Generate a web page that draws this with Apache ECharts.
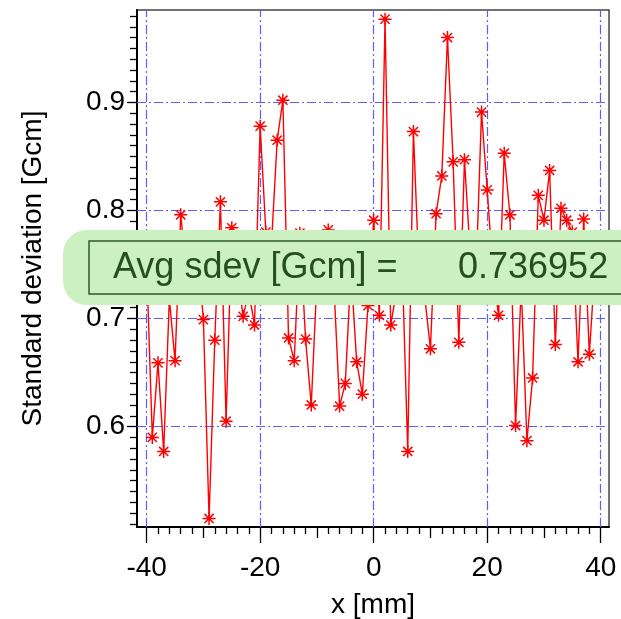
<!DOCTYPE html>
<html><head><meta charset="utf-8">
<script src="https://cdn.jsdelivr.net/npm/echarts@6/dist/echarts.min.js"></script>
<style>html,body{margin:0;padding:0;background:#fff}#c{width:621px;height:619px}</style>
</head><body><div id="c"></div>
<script>
// ---- data ----
const xPositions = [-40,-39,-38,-37,-36,-35,-34,-33,-32,-31,-30,-29,-28,-27,-26,-25,-24,-23,-22,-21,
  -20,-19,-18,-17,-16,-15,-14,-13,-12,-11,-10,-9,-8,-7,-6,-5,-4,-3,-2,-1,
  0,1,2,3,4,5,6,7,8,9,10,11,12,13,14,15,16,17,18,19,
  20,21,22,23,24,25,26,27,28,29,30,31,32,33,34,35,36,37,38,39];
const sdevValues = [0.750,0.590,0.659,0.577,0.718,0.661,0.796,0.745,0.730,0.760,
  0.699,0.515,0.680,0.808,0.605,0.784,0.740,0.702,0.725,0.694,
  0.878,0.780,0.770,0.865,0.902,0.682,0.661,0.779,0.681,0.620,
  0.735,0.760,0.782,0.730,0.619,0.640,0.745,0.660,0.630,0.712,
  0.791,0.703,0.977,0.694,0.725,0.755,0.577,0.873,0.740,0.720,
  0.672,0.797,0.832,0.960,0.845,0.678,0.847,0.760,0.735,0.891,
  0.819,0.745,0.703,0.853,0.796,0.601,0.730,0.587,0.645,0.814,
  0.791,0.837,0.676,0.802,0.791,0.780,0.660,0.792,0.667,0.750];
const xTickLabels = [-40,-20,0,20,40];
const yTickLabels = [0.6,0.7,0.8,0.9];
const xAxisTitle = 'x [mm]';
const yAxisTitle = 'Standard deviation [Gcm]';
const avgLabel = 'Avg sdev [Gcm] =';
const avgValue = '0.736952';

// ---- axis extents & tick positions ----
const X_MIN = -41.7, X_MAX = 41.46;
const Y_MIN = 0.5071, Y_MAX = 0.9855;
const xMedium = [-30,-10,10,30];
const xMinor = [];
for (let v = -40; v <= 40; v += 2) if (v % 10 !== 0) xMinor.push(v);
const yMinor = [];
for (let k = 51; k <= 98; k++) if (k % 10 !== 0) yMinor.push(k / 100);

const FONT = 'Liberation Sans, Arial, sans-serif';
const asterisk = 'path://M6 0L6 12M0 6L12 6M1.76 1.76L10.24 10.24M1.76 10.24L10.24 1.76';

function tickAxis(pos, min, max, vals, len) {
  return {type:'value', position:pos, min:min, max:max, gridIndex:0,
    axisLine:{show:false, onZero:false}, axisLabel:{show:false}, splitLine:{show:false},
    axisTick:{show:true, length:len, customValues:vals, lineStyle:{color:'#000', width:1.3}}};
}

const chart = echarts.init(document.getElementById('c'), null, {renderer:'canvas'});
chart.setOption({
  animation:false,
  grid:{left:137, right:12, top:10, bottom:92, containLabel:false, outerBoundsMode:'none',
    show:true, borderColor:'#444', borderWidth:1.5, backgroundColor:'transparent'},
  xAxis:[
    {type:'value', position:'bottom', min:X_MIN, max:X_MAX,
      name:xAxisTitle, nameLocation:'middle', nameGap:64,
      nameTextStyle:{fontSize:28, color:'#000', fontFamily:FONT},
      axisLine:{show:true, onZero:false, lineStyle:{color:'#000', width:2}},
      axisTick:{show:true, length:16, customValues:xTickLabels, lineStyle:{color:'#000', width:1.3}},
      axisLabel:{customValues:xTickLabels, margin:27, fontSize:28, color:'#000', fontFamily:FONT},
      splitLine:{show:false}},
    tickAxis('bottom', X_MIN, X_MAX, xMedium, 11),
    tickAxis('bottom', X_MIN, X_MAX, xMinor, 7)
  ],
  yAxis:[
    {type:'value', position:'left', min:Y_MIN, max:Y_MAX,
      name:yAxisTitle, nameLocation:'middle', nameGap:90, nameRotate:90,
      nameTextStyle:{fontSize:28, color:'#000', fontFamily:FONT},
      axisLine:{show:true, onZero:false, lineStyle:{color:'#000', width:2}},
      axisTick:{show:true, length:10, customValues:yTickLabels, lineStyle:{color:'#000', width:1.3}},
      axisLabel:{customValues:yTickLabels, margin:12, fontSize:28, color:'#000', fontFamily:FONT},
      splitLine:{show:false}},
    tickAxis('left', Y_MIN, Y_MAX, yMinor, 7)
  ],
  series:[{
    type:'line', xAxisIndex:0, yAxisIndex:0, z:3,
    data: xPositions.map((x, i) => [x, sdevValues[i]]),
    showAllSymbol:true, symbol:asterisk, symbolSize:13,
    itemStyle:{color:'transparent', borderColor:'#ff0000', borderWidth:1.5},
    lineStyle:{color:'#ff0000', width:1.4},
    emphasis:{disabled:true},
    markLine:{silent:true, z:1, symbol:['none','none'], label:{show:false}, animation:false,
      lineStyle:{color:'#5c5cff', type:[9,3,2,3], width:1.2},
      emphasis:{disabled:true},
      data:[...xTickLabels.map(v => ({xAxis:v})), ...yTickLabels.map(v => ({yAxis:v}))]}
  }],
  graphic:[
    {type:'rect', z:100, shape:{x:63, y:230, width:620, height:75, r:[24,0,0,24]}, style:{fill:'#ccf0c0'}},
    {type:'rect', z:101, shape:{x:89, y:241, width:600, height:53}, style:{fill:'#ccf0c0', stroke:'#2e5a2a', lineWidth:1.5}},
    {type:'text', z:102, x:113, y:268, style:{text:avgLabel, fill:'#24501c', font:'36px ' + FONT, textVerticalAlign:'middle', textAlign:'left'}},
    {type:'text', z:102, x:458, y:268, style:{text:avgValue, fill:'#24501c', font:'36px ' + FONT, textVerticalAlign:'middle', textAlign:'left'}}
  ]
});
</script>
</body></html>
